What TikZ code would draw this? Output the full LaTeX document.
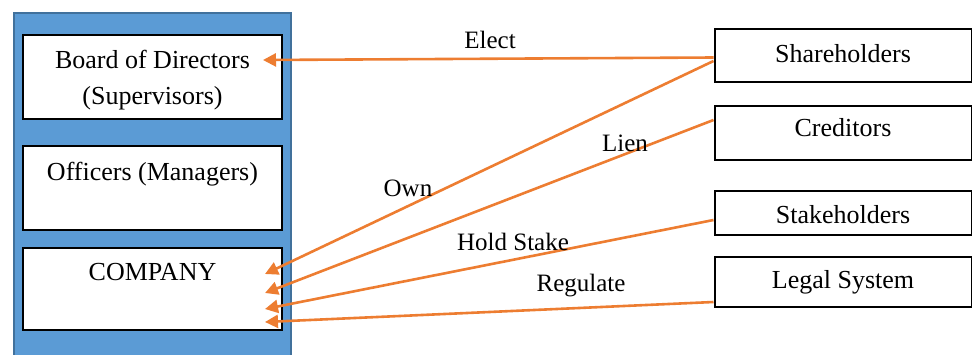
\documentclass[tikz,border=0pt]{standalone}
\usepackage{fontspec}
\setmainfont{Liberation Serif}
\usetikzlibrary{arrows.meta,calc}
\definecolor{panelblue}{HTML}{5B9BD5}
\definecolor{paneledge}{HTML}{41719C}
\definecolor{linkorange}{HTML}{ED7D31}
\tikzset{
  box/.style={draw=black,line width=2pt,fill=white,rectangle,inner sep=0pt},
  txt/.style={font=\fontsize{26}{36}\selectfont,inner sep=0pt,align=center},
  lbl/.style={font=\fontsize{25}{28}\selectfont,inner sep=0pt},
  link/.style={draw=linkorange,line width=2.6pt,-{Triangle[length=13pt,width=13pt]}}
}
\begin{document}
\begin{tikzpicture}[x=1pt,y=-1pt]
\useasboundingbox (0,0) rectangle (972,354);
% company panel
\fill[panelblue] (14,13) rectangle (291,356);
\draw[paneledge,line width=1.5pt] (14,356) -- (14,13) -- (291,13) -- (291,356);
% inner boxes
\node[box,minimum width=259pt,minimum height=84pt] (board) at (152.5,77) {};
\node[box,minimum width=259pt,minimum height=84pt] (officers) at (152.5,188) {};
\node[box,minimum width=259pt,minimum height=82pt] (company) at (152.5,289) {};
\node[txt] (boardtxt) at (152.5,80) {Board of Directors\\(Supervisors)};
\node[txt] (officerstxt) at (152.5,174) {Officers (Managers)};
\node[txt] (companytxt) at (152.5,272) {COMPANY};
% outside parties
\node[box,minimum width=257pt,minimum height=53pt] (sh) at (843,55.5) {};
\node[box,minimum width=257pt,minimum height=54pt] (cr) at (843,133) {};
\node[box,minimum width=257pt,minimum height=44pt] (st) at (843,213) {};
\node[box,minimum width=257pt,minimum height=50pt] (ls) at (843,282) {};
\node[txt] (shtxt) at (843,54) {Shareholders};
\node[txt] (crtxt) at (843,128) {Creditors};
\node[txt] (sttxt) at (843,215) {Stakeholders};
\node[txt] (lstxt) at (843,282) {Legal System};
% arrow targets
\coordinate (tElect) at (263,60);
\coordinate (tOwn) at (265,274);
\coordinate (tLien) at (265,293);
\coordinate (tHold) at (265,309);
\coordinate (tReg) at (265,322);
% links
\draw[link] ($(sh.west)+(0,2)$) -- (tElect);
\draw[link] ($(sh.west)+(0,5.5)$) -- (tOwn);
\draw[link] ($(cr.west)+(0,-13)$) -- (tLien);
\draw[link] ($(st.west)+(0,7)$) -- (tHold);
\draw[link] ($(ls.west)+(0,20)$) -- (tReg);
% link labels
\node[lbl] (lElect) at (490,40) {Elect};
\node[lbl] (lOwn) at (408,188) {Own};
\node[lbl] (lLien) at (625,143) {Lien};
\node[lbl] (lHold) at (513,242) {Hold Stake};
\node[lbl] (lReg) at (581,286) {Regulate};
\end{tikzpicture}
\end{document}
